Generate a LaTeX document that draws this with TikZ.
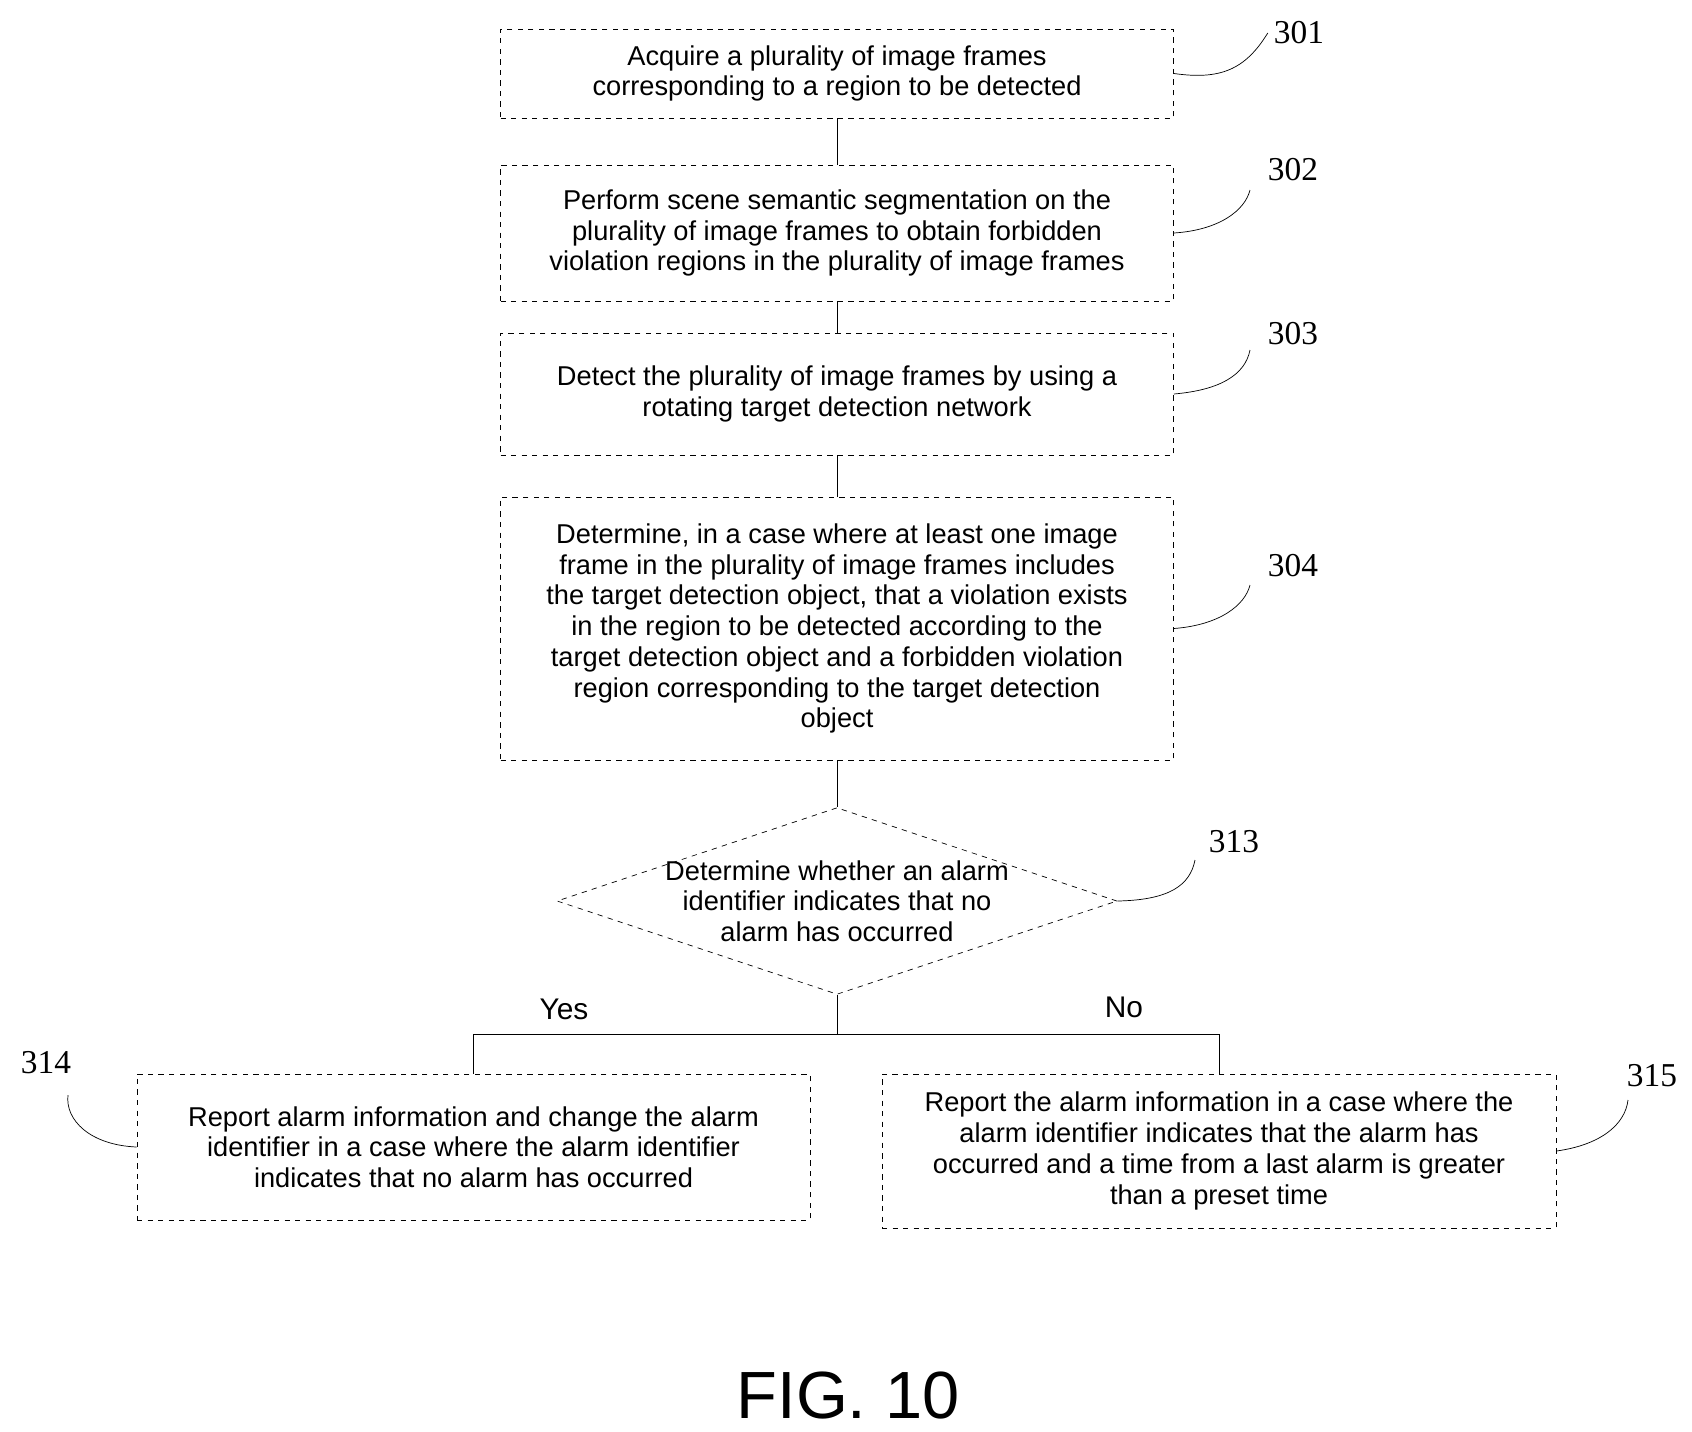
\documentclass[tikz,border=0pt]{standalone}
\usepackage{fontspec}
\setmainfont{Liberation Sans}
\newfontfamily\numfont{Liberation Serif}
\usetikzlibrary{shapes.geometric}
\begin{document}
\begin{tikzpicture}[x=0.02cm,y=-0.02cm,
    box/.style={draw, dashed, thin, align=center, inner sep=0pt,
      font=\fontsize{15.5}{17.5}\selectfont},
    tag/.style={font=\numfont\fontsize{19}{20}\selectfont},
    leader/.style={thin}]
    \useasboundingbox (0,0) rectangle (1692,1431);

    % Steps
    \node[box, minimum width=673*0.02cm, minimum height=89*0.02cm] (s301) at (837,73.5)
      {Acquire a plurality of image frames\\corresponding to a region to be detected};
    \node[box, minimum width=673*0.02cm, minimum height=136*0.02cm] (s302) at (837,233)
      {Perform scene semantic segmentation on the\\plurality of image frames to obtain forbidden\\violation regions in the plurality of image frames};
    \node[box, minimum width=673*0.02cm, minimum height=122*0.02cm] (s303) at (837,394)
      {Detect the plurality of image frames by using a\\rotating target detection network};
    \node[box, minimum width=673*0.02cm, minimum height=263*0.02cm] (s304) at (837,628.5)
      {Determine, in a case where at least one image\\frame in the plurality of image frames includes\\the target detection object, that a violation exists\\in the region to be detected according to the\\target detection object and a forbidden violation\\region corresponding to the target detection\\object};

    % Decision
    \node[box, diamond, aspect=3, inner sep=-2pt] (s313) at (837,901)
      {Determine whether an alarm\\identifier indicates that no\\alarm has occurred};

    % Branches
    \node[box, minimum width=673*0.02cm, minimum height=146*0.02cm] (s314) at (473.5,1147)
      {Report alarm information and change the alarm\\identifier in a case where the alarm identifier\\indicates that no alarm has occurred};
    \node[box, minimum width=674*0.02cm, minimum height=154*0.02cm] (s315) at (1219,1151)
      {Report the alarm information in a case where the\\alarm identifier indicates that the alarm has\\occurred and a time from a last alarm is greater\\than a preset time};

    \draw (s301) -- (s302);
    \draw (s302) -- (s303);
    \draw (s303) -- (s304);
    \draw (s304) -- (s313);
    \coordinate (split) at (837,1034);
    \draw (s313.south) -- (split);
    \draw (split) -| (s314.north);
    \draw (split) -| (s315.north);
    \node[font=\fontsize{17}{18}\selectfont] (yes) at (564,1009) {Yes};
    \node[font=\fontsize{17}{18}\selectfont] (no) at (1124,1007) {No};

    % Reference numerals
    \node[tag] (n301) at (1299,33) {301};
    \node[tag] (n302) at (1293,170) {302};
    \node[tag] (n303) at (1293,334) {303};
    \node[tag] (n304) at (1293,566) {304};
    \node[tag] (n313) at (1234,842) {313};
    \node[tag] (n314) at (46,1063) {314};
    \node[tag] (n315) at (1652,1076) {315};
    \draw[leader] (s301.east) .. controls (1220,80) and (1245,70) .. (n301.west);
    \draw[leader] (s302.east) .. controls (1220,230) and (1245,210) .. (1250,190);
    \draw[leader] (s303.east) .. controls (1220,390) and (1245,375) .. (1250,350);
    \draw[leader] (s304.east) .. controls (1220,625) and (1245,605) .. (1250,585);
    \draw[leader] (s313.east) .. controls (1170,900) and (1190,885) .. (1195,860);
    \draw[leader] (s314.west) .. controls (90,1145) and (65,1120) .. (68,1095);
    \draw[leader] (s315.east) .. controls (1600,1145) and (1625,1125) .. (1628,1100);

    \node[font=\fontsize{38}{40}\selectfont] (fig) at (848,1395) {FIG. 10};
\end{tikzpicture}
\end{document}
